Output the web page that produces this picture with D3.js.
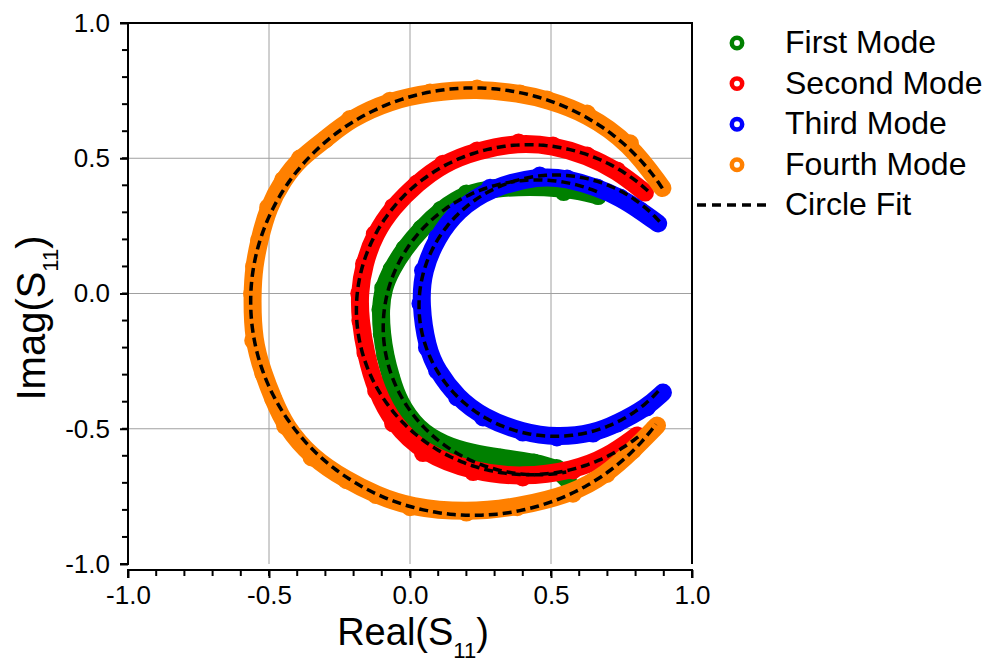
<!DOCTYPE html>
<html>
<head>
<meta charset="utf-8">
<script src="https://cdn.jsdelivr.net/npm/d3@7"></script>
<style>
	body { margin: 0; background: #fff; }
	svg { font-family: Arial, 'Liberation Sans', sans-serif; }
</style>
</head>
<body>
<svg width="998" height="668"></svg>
<script>
let firstMode = [
	[0.667, 0.362], [0.60, 0.38], [0.53, 0.39], [0.43, 0.395], [0.30, 0.39],
	[0.20, 0.37], [0.11, 0.31], [0.04, 0.24], [-0.02, 0.165], [-0.065, 0.09],
	[-0.095, 0.02], [-0.105, -0.06], [-0.10, -0.15], [-0.088, -0.23], [-0.068, -0.31],
	[-0.04, -0.40], [0.025, -0.50], [0.12, -0.56], [0.22, -0.59], [0.32, -0.607],
	[0.44, -0.625], [0.52, -0.645], [0.56, -0.69]
]
let firstExtra = [[0.545, 0.375], [0.667, 0.36]]

let secondMode = [
	[0.833, 0.373], [0.734, 0.455], [0.628, 0.51], [0.507, 0.547], [0.385, 0.558],
	[0.238, 0.529], [0.117, 0.48], [0.025, 0.407], [-0.06, 0.32], [-0.125, 0.22],
	[-0.163, 0.11], [-0.18, 0.0], [-0.176, -0.10], [-0.158, -0.22], [-0.12, -0.36],
	[-0.06, -0.48], [0.046, -0.59], [0.224, -0.66], [0.40, -0.68], [0.578, -0.654],
	[0.698, -0.606], [0.805, -0.525]
]

let thirdMode = [
	[0.88, 0.259], [0.816, 0.307], [0.745, 0.355], [0.663, 0.392], [0.557, 0.425],
	[0.46, 0.436], [0.284, 0.391], [0.167, 0.307], [0.096, 0.207], [0.046, 0.085],
	[0.037, -0.037], [0.06, -0.2], [0.096, -0.285], [0.167, -0.384], [0.259, -0.458],
	[0.40, -0.514], [0.521, -0.532], [0.649, -0.518], [0.734, -0.481], [0.84, -0.421],
	[0.897, -0.366]
]

let fourthMode = [
	[0.895, 0.39], [0.78, 0.555], [0.628, 0.665], [0.486, 0.717], [0.39, 0.739],
	[0.238, 0.758], [0.071, 0.743], [-0.071, 0.713], [-0.213, 0.645], [-0.30, 0.57],
	[-0.39, 0.50], [-0.45, 0.42], [-0.503, 0.318], [-0.535, 0.196], [-0.553, 0.10],
	[-0.56, 0.0], [-0.556, -0.174], [-0.52, -0.296], [-0.485, -0.39], [-0.443, -0.489],
	[-0.349, -0.606], [-0.225, -0.69], [-0.12, -0.745], [0.0, -0.79], [0.20, -0.81],
	[0.38, -0.79], [0.578, -0.74], [0.698, -0.667], [0.79, -0.58], [0.876, -0.488]
]

// circle fits: centre re, centre im, radius, start / end angle (deg)
let fitCx = [0.45, 0.42, 0.515, 0.225]
let fitCy = [-0.125, -0.06, -0.045, -0.03]
let fitR = [0.545, 0.61, 0.483, 0.79]
let fitFrom = [67, 46, 40, 32]
let fitTo = [281, 310, 320, 325]

let names = ['First Mode', 'Second Mode', 'Third Mode', 'Fourth Mode']
let colors = ['#008000', '#ff0000', '#0000ff', '#ff8000']
let series = [firstMode, secondMode, thirdMode, fourthMode]

let majorTicks = [-1.0, -0.5, 0.0, 0.5, 1.0]
let minorTicks = d3.range(-10, 11).map(d => d / 10)

let svg = d3.select('svg')

let scX = d3.scaleLinear().domain([-1, 1]).range([128, 692])
let scY = d3.scaleLinear().domain([-1, 1]).range([564, 23])

// grid
let grid = svg.append('g').attr('stroke', '#a0a0a0').attr('stroke-width', 1)
grid.selectAll('.gx').data([-0.5, 0, 0.5]).enter().append('line')
	.attr('x1', d => scX(d)).attr('x2', d => scX(d))
	.attr('y1', scY(1)).attr('y2', scY(-1))
grid.selectAll('.gy').data([-0.5, 0, 0.5]).enter().append('line')
	.attr('y1', d => scY(d)).attr('y2', d => scY(d))
	.attr('x1', scX(-1)).attr('x2', scX(1))

// frame top / right
svg.append('path')
	.attr('d', `M${scX(-1)},${scY(1)} H${scX(1)} V${scY(-1)}`)
	.attr('fill', 'none').attr('stroke', '#000').attr('stroke-width', 2)

// data bands + markers
let line = d3.line().x(d => scX(d[0])).y(d => scY(d[1])).curve(d3.curveBasis)
let plot = svg.append('g')
series.forEach((s, i) => {
	plot.append('path').datum(s)
	.attr('d', line)
	.attr('fill', 'none')
	.attr('stroke', colors[i])
	.attr('stroke-width', 18)
	.attr('stroke-linecap', 'round')
	.attr('stroke-linejoin', 'round')

	let pts = s.slice(1, -1).concat(i == 0 ? firstExtra : [])
	plot.append('g').selectAll('circle')
	.data(pts).enter()
	.append('circle')
	.attr('cx', d => scX(d[0]))
	.attr('cy', d => scY(d[1]))
	.attr('r', 7)
	.attr('fill', colors[i])
	.attr('stroke', colors[i])
	.attr('stroke-width', 4)
})

// circle fits
let fitLine = d3.line().x(d => scX(d[0])).y(d => scY(d[1]))
fitR.forEach((r, i) => {
	let angs = d3.range(fitFrom[i], fitTo[i] + 0.5, 1)
	let pts = angs.map(a => [fitCx[i] + r * Math.cos(a * Math.PI / 180), fitCy[i] + r * Math.sin(a * Math.PI / 180)])
	svg.append('path').datum(pts)
	.attr('d', fitLine)
	.attr('fill', 'none')
	.attr('stroke', '#000')
	.attr('stroke-width', 3.5)
	.attr('stroke-dasharray', '9 5')
})

// axes
let fmt = d => d.toFixed(1)
let axL = svg.append('g').attr('transform', `translate(${scX(-1)},0)`)
	.call(d3.axisLeft(scY).tickValues(majorTicks).tickFormat(fmt).tickSize(8).tickPadding(10))
axL.append('g').selectAll('line').data(minorTicks).enter().append('line')
	.attr('x1', 0).attr('x2', -6).attr('y1', d => scY(d)).attr('y2', d => scY(d))
	.attr('stroke', '#000').attr('stroke-width', 2)

let axB = svg.append('g').attr('transform', `translate(0,570)`)
	.call(d3.axisBottom(scX).tickValues(majorTicks).tickFormat(fmt).tickSize(8).tickPadding(8))
axB.append('g').selectAll('line').data(minorTicks).enter().append('line')
	.attr('y1', 0).attr('y2', 6).attr('x1', d => scX(d)).attr('x2', d => scX(d))
	.attr('stroke', '#000').attr('stroke-width', 2)

svg.selectAll('.domain').attr('stroke-width', 2)
svg.selectAll('.tick line').attr('stroke-width', 2)
svg.selectAll('.tick text').attr('font-size', 26).attr('fill', '#000')
	.attr('font-family', 'Arial, Liberation Sans, sans-serif')
axB.select('.domain').attr('d', `M${scX(-1)},8V0H${scX(1)}V8`)
axL.select('.domain').attr('d', `M-8,${scY(1)}H0V${scY(-1)}H-8`)

// axis titles
let xt = svg.append('text').attr('x', 413).attr('y', 645)
	.attr('text-anchor', 'middle').attr('font-size', 38)
xt.append('tspan').text('Real(S')
xt.append('tspan').text('11').attr('font-size', 22).attr('dy', 13)
xt.append('tspan').text(')').attr('dy', -13)

let yt = svg.append('text').attr('transform', `translate(45,318) rotate(-90)`)
	.attr('text-anchor', 'middle').attr('font-size', 40)
yt.append('tspan').text('Imag(S')
yt.append('tspan').text('11').attr('font-size', 22).attr('dy', 13)
yt.append('tspan').text(')').attr('dy', -13)

// legend
let leg = svg.append('g').attr('font-size', 32)
names.forEach((n, i) => {
	let y = 43 + i * 40.6
	leg.append('circle').attr('cx', 737).attr('cy', y).attr('r', 5.2)
		.attr('fill', 'none').attr('stroke', colors[i]).attr('stroke-width', 4.5)
	leg.append('text').attr('x', 785).attr('y', y + 10).text(n)
})
leg.append('line').attr('x1', 697).attr('x2', 772).attr('y1', 205).attr('y2', 205)
	.attr('stroke', '#000').attr('stroke-width', 3.5).attr('stroke-dasharray', '9 6')
leg.append('text').attr('x', 785).attr('y', 215).text('Circle Fit')
</script>
</body>
</html>
